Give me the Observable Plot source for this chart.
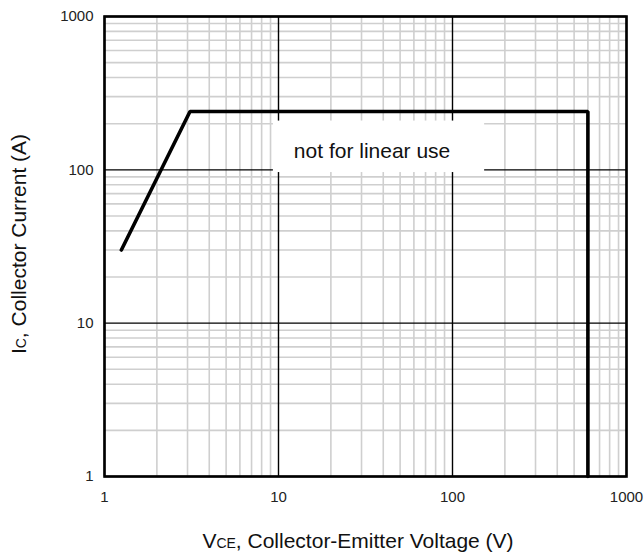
<!DOCTYPE html>
<html>
<head>
<meta charset="utf-8">
<script src="https://cdn.jsdelivr.net/npm/d3@7"></script>
<script src="https://cdn.jsdelivr.net/npm/@observablehq/plot@0.6"></script>
<style>
  html, body { margin: 0; padding: 0; background: #fff; }
  #chart svg { display: block; }
</style>
</head>
<body>
<div id="chart"></div>
<script>
// Safe operating area curve
const vce = [1.25, 3.1, 600, 600];
const ic  = [30, 240, 240, 1];

// Axis ticks
const majorTicks = [1, 10, 100, 1000];
const tickLabels = ["1", "10", "100", "1000"];
const minorTicks = [2, 3, 4, 5, 6, 7, 8, 9,
                    20, 30, 40, 50, 60, 70, 80, 90,
                    200, 300, 400, 500, 600, 700, 800, 900];

// Annotation
const noteText = ["not for linear use"];
const noteX = [34.5];
const noteY = [133];
const noteBoxX = [9.35, 153];
const noteBoxY = [96, 208];

const curve = vce.map((v, i) => ({v, i: ic[i]}));
const fmt = d => tickLabels[majorTicks.indexOf(d)];

const chart = Plot.plot({
  width: 644,
  height: 555,
  marginLeft: 104,
  marginRight: 18,
  marginTop: 16,
  marginBottom: 79,
  style: {fontFamily: "'Liberation Sans', Arial, sans-serif", fontSize: "14px", color: "#222", background: "#fff"},
  x: {type: "log", domain: [1, 1000], axis: null},
  y: {type: "log", domain: [1, 1000], axis: null},
  marks: [
    Plot.ruleX(minorTicks, {stroke: "#cfcfcf", strokeWidth: 1.6}),
    Plot.ruleY(minorTicks, {stroke: "#cfcfcf", strokeWidth: 1.6}),
    Plot.ruleX(majorTicks, {stroke: "#000", strokeWidth: 1.4}),
    Plot.ruleY(majorTicks, {stroke: "#000", strokeWidth: 1.4}),
    Plot.rect([{x1: noteBoxX[0], x2: noteBoxX[1], y1: noteBoxY[0], y2: noteBoxY[1]}],
      {x1: "x1", x2: "x2", y1: "y1", y2: "y2", fill: "#fff"}),
    Plot.text(noteText, {x: noteX, y: noteY, text: d => d, fontSize: 21, fill: "#111"}),
    Plot.line(curve, {x: "v", y: "i", stroke: "#000", strokeWidth: 3.6, strokeLinejoin: "miter"}),
    Plot.frame({stroke: "#000", strokeWidth: 2.6}),
    // tick labels
    Plot.text(majorTicks, {x: d => d, frameAnchor: "bottom", dy: 21, text: fmt, fontSize: 15, fill: "#222", lineAnchor: "middle"}),
    Plot.text(majorTicks, {y: d => d, frameAnchor: "left", dx: -11, text: fmt, fontSize: 15, fill: "#222", textAnchor: "end"})
  ]
});

document.getElementById("chart").appendChild(chart);

// Axis titles with subscripts
const svg = d3.select(chart);
const xt = svg.append("text")
  .attr("x", 358).attr("y", 548)
  .attr("text-anchor", "middle")
  .attr("font-size", 21)
  .attr("fill", "#111");
xt.append("tspan").text("V");
xt.append("tspan").attr("font-size", 14).text("CE");
xt.append("tspan").text(", Collector-Emitter Voltage (V)");

const yt = svg.append("text")
  .attr("transform", "translate(26,244) rotate(-90)")
  .attr("text-anchor", "middle")
  .attr("font-size", 21)
  .attr("fill", "#111");
yt.append("tspan").text("I");
yt.append("tspan").attr("font-size", 14).text("C");
yt.append("tspan").text(", Collector Current (A)");
</script>
</body>
</html>
